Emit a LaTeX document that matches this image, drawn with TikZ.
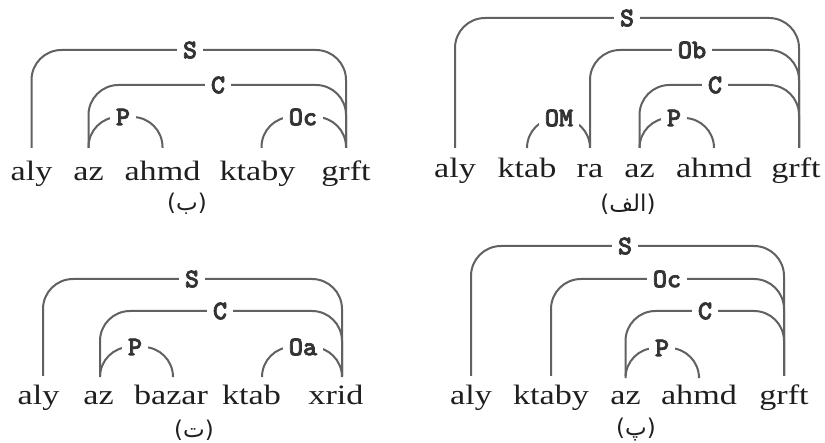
\documentclass[tikz,border=0pt]{standalone}
\usepackage{fontspec}
\setmainfont{Liberation Serif}
\newfontfamily\wordfont[FakeStretch=1.22]{Liberation Serif}
\newfontfamily\arabicfont[Script=Arabic]{DejaVu Sans}
\newfontfamily\parenfont{DejaVu Sans}
\newfontfamily\labfont[FakeBold=2.5]{lmmonolt10-bold.otf}
\TeXXeTstate=1
\tikzset{
  word/.style={font=\wordfont\fontsize{14}{16}\selectfont, anchor=base, inner sep=0pt, text=black!88},
  lab/.style={font=\labfont\fontsize{13.5}{14}\selectfont, fill=white, inner xsep=3pt, inner ysep=0.5pt, text=black!80},
  arcline/.style={draw=black!62, line width=1pt, rounded corners=15pt},
  capt/.style={font=\fontsize{11.5}{13}\selectfont, text=black!88, inner sep=0pt}
}
\newcommand\deparc[6]{%
  \coordinate (#4c) at #5;
  \draw[arcline] (#1 |- #3) -- (#1 |- #4c) -- (#2 |- #4c) -- (#2 |- #3);
  \node[lab] (#4) at (#4c) {#6};}
\newcommand\capword[1]{{\parenfont(}{\arabicfont\beginR #1\endR}{\parenfont)}}
\begin{document}
\begin{tikzpicture}[x=0.5pt,y=-0.5pt]
\fill[white] (0,0) rectangle (825,443);
\useasboundingbox (0,0) rectangle (825,443);
% ---------- panel (ب) top-left
\node[word] (a1) at (31.5,181) {aly};
\node[word] (a2) at (88.5,181) {az};
\node[word] (a3) at (162.5,181) {ahmd};
\node[word] (a4) at (257.5,181) {ktaby};
\node[word] (a5) at (346,181) {grft};
\coordinate (ab) at (0,148);
\coordinate (a4x) at ([xshift=2pt]a4.base);
\deparc{a1}{a5}{ab}{aS}{(190,50)}{S}
\deparc{a2}{a5}{ab}{aC}{(218,85)}{C}
\deparc{a2}{a3}{ab}{aP}{(123,117)}{P}
\deparc{a4x}{a5}{ab}{aO}{(303,117)}{Oc}
\node[capt] (acap) at (187,204) {\capword{ب}};
% ---------- panel (الف) top-right
\node[word] (b1) at (455,178) {aly};
\node[word] (b2) at (527,178) {ktab};
\node[word] (b3) at (590,178) {ra};
\node[word] (b4) at (639.5,178) {az};
\node[word] (b5) at (714,178) {ahmd};
\node[word] (b6) at (796,178) {grft};
\coordinate (bb) at (0,148);
\coordinate (b6x) at ([xshift=1.5pt]b6.base);
\deparc{b1}{b6x}{bb}{bS}{(627,18)}{S}
\deparc{b3}{b6x}{bb}{bO}{(692,50)}{Ob}
\deparc{b4}{b6x}{bb}{bC}{(715,85)}{C}
\deparc{b4}{b5}{bb}{bP}{(674,118)}{P}
\deparc{b2}{b3}{bb}{bM}{(559,118)}{OM}
\node[capt] (bcap) at (628,204) {\capword{الف}};
% ---------- panel (ت) bottom-left
\node[word] (c1) at (38.5,405) {aly};
\node[word] (c2) at (98.5,405) {az};
\node[word] (c3) at (171,405) {bazar};
\node[word] (c4) at (251.5,405) {ktab};
\node[word] (c5) at (336,405) {xrid};
\coordinate (cb) at (0,376);
\coordinate (c1x) at ([xshift=2.25pt]c1.base);
\coordinate (c2x) at ([xshift=0.75pt]c2.base);
\coordinate (c3x) at ([xshift=1pt]c3.base);
\coordinate (c4x) at ([xshift=5.25pt]c4.base);
\coordinate (c5x) at ([xshift=3pt]c5.base);
\deparc{c1x}{c5x}{cb}{cS}{(192,279)}{S}
\deparc{c2x}{c5x}{cb}{cC}{(220,311)}{C}
\deparc{c2x}{c3x}{cb}{cP}{(135,347)}{P}
\deparc{c4x}{c5x}{cb}{cO}{(303,347)}{Oa}
\node[capt] (ccap) at (194,430) {\capword{ت}};
% ---------- panel (پ) bottom-right
\node[word] (d1) at (471,405) {aly};
\node[word] (d2) at (551,405) {ktaby};
\node[word] (d3) at (625.5,405) {az};
\node[word] (d4) at (699,405) {ahmd};
\node[word] (d5) at (784,405) {grft};
\coordinate (db) at (0,376);
\deparc{d1}{d5}{db}{dS}{(625,246)}{S}
\deparc{d2}{d5}{db}{dO}{(667,279)}{Oc}
\deparc{d3}{d5}{db}{dC}{(705,311)}{C}
\deparc{d3}{d4}{db}{dP}{(662,348)}{P}
\node[capt] (dcap) at (636,430) {\capword{پ}};
\end{tikzpicture}
\end{document}
